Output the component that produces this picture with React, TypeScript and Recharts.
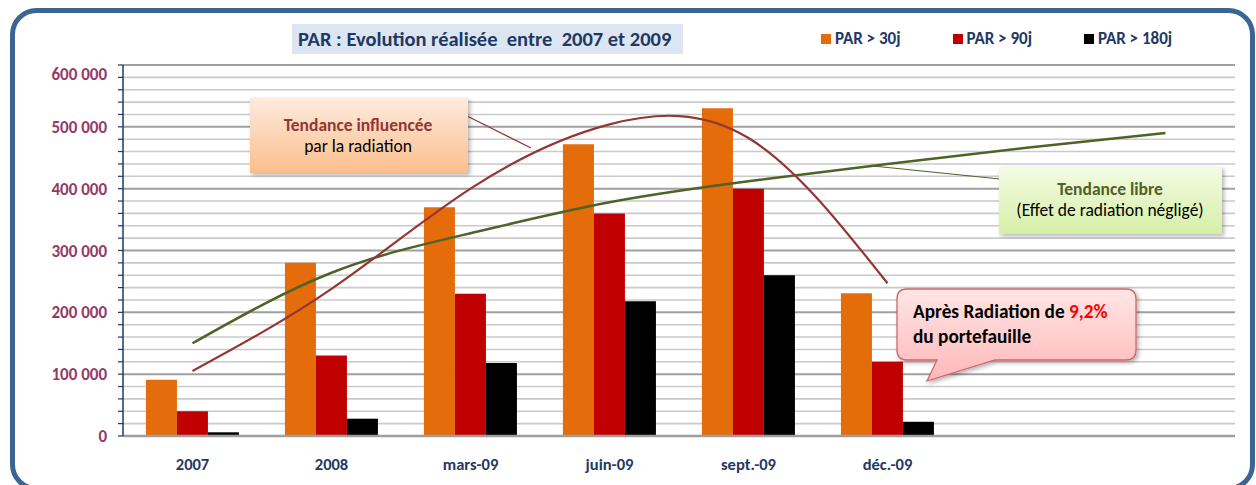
import React from "react";
import {
  ComposedChart,
  Bar,
  Line,
  XAxis,
  YAxis,
  CartesianGrid,
  Legend,
} from "recharts";

// PAR evolution 2007 -> 2009, bars + two hand-drawn trend curves

const categories = ["2007", "2008", "mars-09", "juin-09", "sept.-09", "déc.-09", "", " "];
const par30 = [91000, 280000, 370000, 472000, 530000, 231000];
const par90 = [40000, 130000, 230000, 360000, 400000, 120000];
const par180 = [6000, 28000, 118000, 218000, 260000, 23000];
// trend curves at each category centre
const trendFree = [150000, 264000, 328000, 378000, 412000, 440000, 466000, 490000];
const trendRadiation = [105000, 238000, 400000, 504000, 482000, 247000];

const yTicks = Array.from({ length: 31 }, (_, i) => i * 20000);

const series = [
  { key: "p30", name: "PAR > 30j", color: "#E46C0A" },
  { key: "p90", name: "PAR > 90j", color: "#C00000" },
  { key: "p180", name: "PAR > 180j", color: "#000000" },
];

const data = categories.map((cat, i) => ({
  cat,
  p30: par30[i],
  p90: par90[i],
  p180: par180[i],
  free: trendFree[i],
  rad: trendRadiation[i],
}));

const FONT = "Carlito, Lato, 'Open Sans', sans-serif";
const NAVY = "#1F3864";

const fmt = (v: number) => String(v).replace(/\B(?=(\d{3})+(?!\d))/g, " ");

const YTick = (props: any) => {
  const { x, y, payload } = props;
  const v = payload.value;
  if (v % 100000 !== 0) return null;
  return (
    <text
      x={x}
      y={y + (v === 600000 ? 9 : 0)}
      dy="0.355em"
      textAnchor="end"
      fill="#953A67"
      fontWeight={700}
      fontSize={17}
      fontFamily={FONT}
    >
      {fmt(v)}
    </text>
  );
};

const XTick = (props: any) => {
  const { x, y, payload } = props;
  return (
    <text
      x={x}
      y={y + 26}
      textAnchor="middle"
      fill={NAVY}
      fontWeight={700}
      fontSize={16.5}
      fontFamily={FONT}
    >
      {payload.value}
    </text>
  );
};

const gridLine = (p: any) => {
  const v = Math.round(((p.y + p.height - p.y1) / p.height) * 30) * 20000;
  const major = v % 100000 === 0;
  return (
    <line
      key={p.key}
      x1={p.x1}
      y1={p.y1}
      x2={p.x2}
      y2={p.y2}
      stroke={major ? "#A0A0A0" : "#CACACA"}
      strokeWidth={major ? 2 : 1.6}
    />
  );
};

const LegendContent = () => (
  <div style={{ display: "flex", fontFamily: FONT }}>
    {series.map((s) => (
      <div key={s.key} style={{ width: 131.5, display: "flex", alignItems: "center" }}>
        <span style={{ width: 10, height: 10, background: s.color, marginRight: 4 }} />
        <span style={{ color: NAVY, fontWeight: 700, fontSize: 17 }}>{s.name}</span>
      </div>
    ))}
  </div>
);

const Overlay = () => (
  <svg
    width={1256}
    height={485}
    style={{ position: "absolute", left: 0, top: 0, pointerEvents: "none" }}
    fontFamily={FONT}
  >
    <defs>
      <linearGradient id="gOrange" x1="0" y1="0" x2="0" y2="1">
        <stop offset="0" stopColor="#FDEBDD" />
        <stop offset="1" stopColor="#FBBE8C" />
      </linearGradient>
      <linearGradient id="gGreen" x1="0" y1="0" x2="0" y2="1">
        <stop offset="0" stopColor="#F4FBE4" />
        <stop offset="1" stopColor="#D5EFA6" />
      </linearGradient>
      <linearGradient id="gPink" x1="0" y1="0" x2="0" y2="1">
        <stop offset="0" stopColor="#FFE6E6" />
        <stop offset="1" stopColor="#FFB8B8" />
      </linearGradient>
      <filter id="sh" x="-10%" y="-10%" width="130%" height="140%">
        <feDropShadow dx="2" dy="2" stdDeviation="2" floodOpacity="0.3" />
      </filter>
    </defs>

    {/* title */}
    <rect x={292} y={24} width={391} height={30} fill="#DCE6F2" />
    <text x={298} y={46} fill={NAVY} fontWeight={700} fontSize={20.5} style={{ whiteSpace: "pre" }}>
      {"PAR : Evolution réalisée  entre  2007 et 2009"}
    </text>

    {/* trend annotations */}
    <line x1={467} y1={116} x2={531} y2={148} stroke="#943634" strokeWidth={1.2} />
    <rect x={250} y={98} width={218} height={75} fill="url(#gOrange)" filter="url(#sh)" />
    <text x={358} y={131} textAnchor="middle" fill="#943634" fontWeight={700} fontSize={17.5}>
      Tendance influencée
    </text>
    <text x={358} y={152} textAnchor="middle" fill="#000" fontSize={17.5}>
      par la radiation
    </text>

    <line x1={873} y1={166} x2={1000} y2={179} stroke="#4F6228" strokeWidth={1.2} />
    <rect x={999} y={167} width={223} height={67} fill="url(#gGreen)" filter="url(#sh)" />
    <text x={1110} y={195} textAnchor="middle" fill="#4F6228" fontWeight={700} fontSize={17.5}>
      Tendance libre
    </text>
    <text x={1110} y={216} textAnchor="middle" fill="#000" fontSize={17.5}>
      (Effet de radiation négligé)
    </text>

    {/* radiation callout */}
    <path
      d="M907 289 H1126 Q1136 289 1136 299 V350 Q1136 360 1126 360 H995 L927 381 L937 360 H907 Q897 360 897 350 V299 Q897 289 907 289 Z"
      fill="url(#gPink)"
      stroke="#D0676A"
      strokeWidth={1.3}
      filter="url(#sh)"
    />
    <text x={913} y={318} fill="#000" fontWeight={700} fontSize={19.3}>
      Après Radiation de <tspan fill="#FF0000">9,2%</tspan>
    </text>
    <text x={913} y={343} fill="#000" fontWeight={700} fontSize={19.3}>
      du portefauille
    </text>

    {/* outer frame */}
    <rect x={12.5} y={10.5} width={1240} height={478} rx={24} fill="none" stroke="#3B6593" strokeWidth={5} />
  </svg>
);

export default function App() {
  return (
    <div style={{ position: "absolute", left: 0, top: 0, width: 1256, height: 485, background: "#fff" }}>
      <ComposedChart
        width={1256}
        height={485}
        data={data}
        margin={{ top: 65, right: 21, bottom: 0, left: 0 }}
        barCategoryGap="16.5%"
        barGap={0}
      >
        <CartesianGrid vertical={false} horizontal={gridLine} />
        <XAxis
          dataKey="cat"
          height={49}
          axisLine={{ stroke: "#9E9E9E", strokeWidth: 2.5 }}
          tickLine={false}
          tick={<XTick />}
          interval={0}
        />
        <YAxis
          width={123}
          domain={[0, 600000]}
          ticks={yTicks}
          interval={0}
          tick={<YTick />}
          tickSize={5}
          tickMargin={11}
          axisLine={{ stroke: NAVY, strokeWidth: 1.5 }}
          tickLine={{ stroke: NAVY, strokeWidth: 1.2 }}
        />
        <YAxis
          yAxisId="frame"
          orientation="right"
          width={0}
          domain={[0, 1]}
          tick={false}
          tickLine={false}
          axisLine={{ stroke: "#A6A6A6", strokeWidth: 2 }}
        />
        <Legend
          layout="horizontal"
          verticalAlign="middle"
          align="center"
          content={<LegendContent />}
          wrapperStyle={{ top: 28, left: 821, width: 420, height: 20 }}
        />
        {series.map((s) => (
          <Bar key={s.key} dataKey={s.key} name={s.name} fill={s.color} isAnimationActive={false} />
        ))}
        <Line
          dataKey="free"
          type="natural"
          stroke="#4F6228"
          strokeWidth={2.5}
          dot={false}
          activeDot={false}
          legendType="none"
          isAnimationActive={false}
        />
        <Line
          dataKey="rad"
          type="natural"
          stroke="#943634"
          strokeWidth={2.2}
          dot={false}
          activeDot={false}
          legendType="none"
          isAnimationActive={false}
        />
      </ComposedChart>
      <Overlay />
    </div>
  );
}
